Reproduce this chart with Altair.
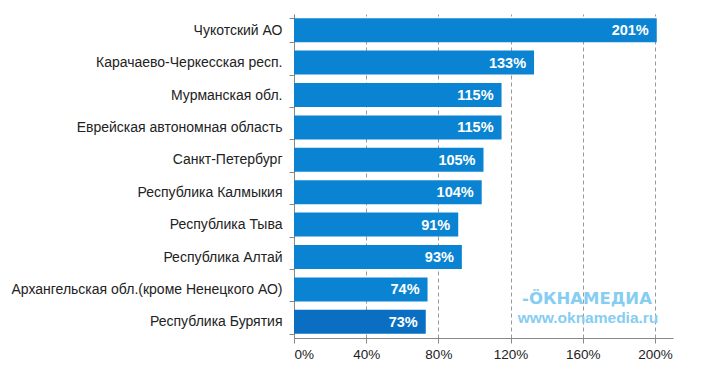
import altair as alt
import pandas as pd

regions = [
    "Чукотский АО",
    "Карачаево-Черкесская респ.",
    "Мурманская обл.",
    "Еврейская автономная область",
    "Санкт-Петербург",
    "Республика Калмыкия",
    "Республика Тыва",
    "Республика Алтай",
    "Архангельская обл.(кроме Ненецкого АО)",
    "Республика Бурятия",
]
values = [201, 133, 115, 115, 105, 104, 91, 93, 74, 73]
colors = ["#0a84d2"] * 9 + ["#0a6fc2"]
x_ticks = [0, 40, 80, 120, 160, 200]

df = pd.DataFrame({"region": regions, "value": values, "color": colors,
                   "label": [f"{v}%" for v in values]})

FONT = "Liberation Sans"

y_enc = alt.Y("region:N", sort=regions, title=None,
              scale=alt.Scale(paddingInner=0.26, paddingOuter=0.13),
              axis=alt.Axis(labelFontSize=14, labelColor="#222", labelFont=FONT,
                            labelPadding=7, tickBand="extent", tickColor="#888",
                            tickSize=5, domainColor="#888", grid=False,
                            labelLimit=400))
x_enc = alt.X("value:Q", title=None,
              scale=alt.Scale(domain=[0, 210], nice=False),
              axis=alt.Axis(values=x_ticks, labelExpr="datum.value + '%'",
                            labelFontSize=13.5, labelColor="#222", labelFont=FONT,
                            grid=True, gridDash=[4, 3], gridColor="#999",
                            tickColor="#888", tickSize=5, domainColor="#888",
                            labelPadding=4))

base = alt.Chart(df)
bars = base.mark_bar().encode(
    y=y_enc, x=x_enc,
    color=alt.Color("color:N", scale=None, legend=None),
)
labels = base.mark_text(align="right", baseline="middle", dx=-8, dy=1,
                        color="white", fontWeight="bold", fontSize=14.5, font=FONT).encode(
    y=alt.Y("region:N", sort=regions), x="value:Q", text="label:N")

wm1 = alt.Chart(pd.DataFrame({"t": ["-ÖКНАМЕДИА"]})).mark_text(
    color="#86cdf2", fontWeight="bold", fontSize=16.5, font="DejaVu Sans",
    align="center", baseline="middle").encode(
    x=alt.value(293), y=alt.value(285), text="t:N")
wm2 = alt.Chart(pd.DataFrame({"t": ["www.oknamedia.ru"]})).mark_text(
    color="#86cdf2", fontWeight="bold", fontSize=15.5, font=FONT,
    align="center", baseline="middle").encode(
    x=alt.value(294), y=alt.value(304), text="t:N")

chart = alt.layer(bars, labels, wm1, wm2).properties(
    width=379, height=324,
    autosize=alt.AutoSizeParams(type="none"),
    padding={"left": 286, "top": 6, "right": 5, "bottom": 30},
).configure_view(stroke=None)

chart.save("out.html", embed_options={"renderer": "svg", "actions": False})
